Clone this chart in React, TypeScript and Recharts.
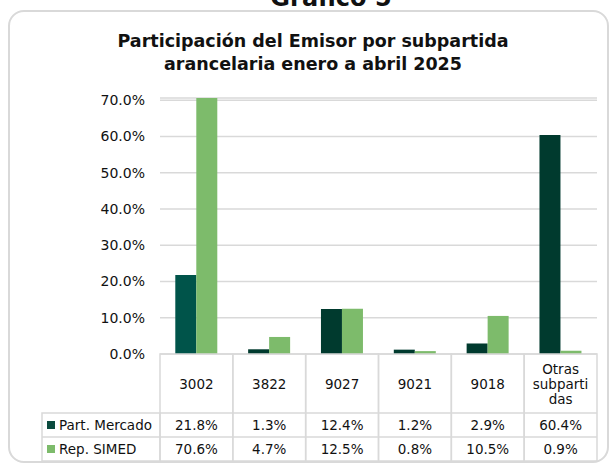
import { BarChart, Bar, XAxis, YAxis, CartesianGrid, Cell } from "recharts";

const categories = ["3002", "3822", "9027", "9021", "9018", "Otras\nsubparti\ndas"];
const partMercado = [21.8, 1.3, 12.4, 1.2, 2.9, 60.4];
const repSimed = [70.6, 4.7, 12.5, 0.8, 10.5, 0.9];
const yTicks = [0, 10, 20, 30, 40, 50, 60, 70];
const seriesNames = ["Part. Mercado", "Rep. SIMED"];

const data = categories.map((c, i) => ({ name: c, mercado: partMercado[i], simed: repSimed[i] }));

const FONT = "'DejaVu Sans', sans-serif";
const GRID = "#d9d9d9";
const DARK_FIRST = "#00544a";
const DARK = "#003a2e";
const GREEN = "#7dbb6b";
const LEGEND_DARK = "#0b4b3e";

const W = 611;
const H = 464;
const M = { top: 98, right: 14, left: 100, bottom: 2 };
const Y_W = 60;
const X_H = 108;
const COL_W = (W - M.left - Y_W - M.right) / categories.length;
const CAT_H = 59;
const ROW_H = 24;
const HEAD_W = 118;

const fmt = (v: number) => v.toFixed(1) + "%";

const TableTick = (props: any) => {
  const { x, y, payload } = props;
  const i = payload.index;
  const left = x - COL_W / 2;
  const lines = String(payload.value).split("\n");
  const r1 = y + CAT_H;
  const r2 = r1 + ROW_H;
  const lineH = 15;
  const catMid = y + CAT_H / 2;
  return (
    <g fontFamily={FONT} fontSize={13.5} fill="#111">
      <rect x={left} y={y} width={COL_W} height={CAT_H + ROW_H * 2} fill="none" stroke={GRID} strokeWidth={1.5} />
      <line x1={left} x2={left + COL_W} y1={r1} y2={r1} stroke={GRID} strokeWidth={1.5} />
      <line x1={left} x2={left + COL_W} y1={r2} y2={r2} stroke={GRID} strokeWidth={1.5} />
      {lines.map((l, k) => (
        <text key={k} x={x} y={catMid + (k - (lines.length - 1) / 2) * lineH} textAnchor="middle" dominantBaseline="central">
          {l}
        </text>
      ))}
      <text x={x} y={r1 + ROW_H / 2} textAnchor="middle" dominantBaseline="central">{fmt(partMercado[i])}</text>
      <text x={x} y={r2 + ROW_H / 2} textAnchor="middle" dominantBaseline="central">{fmt(repSimed[i])}</text>
      {i === 0 && (
        <g>
          <rect x={left - HEAD_W} y={r1} width={HEAD_W} height={ROW_H * 2} fill="none" stroke={GRID} strokeWidth={1.5} />
          <line x1={left - HEAD_W} x2={left} y1={r2} y2={r2} stroke={GRID} strokeWidth={1.5} />
          <rect x={left - HEAD_W + 5} y={r1 + ROW_H / 2 - 4} width={8} height={8} fill={LEGEND_DARK} />
          <text x={left - HEAD_W + 17} y={r1 + ROW_H / 2} dominantBaseline="central">{seriesNames[0]}</text>
          <rect x={left - HEAD_W + 5} y={r2 + ROW_H / 2 - 4} width={8} height={8} fill={GREEN} />
          <text x={left - HEAD_W + 17} y={r2 + ROW_H / 2} dominantBaseline="central">{seriesNames[1]}</text>
        </g>
      )}
    </g>
  );
};

export default function App() {
  return (
    <div style={{ position: "absolute", left: 0, top: 0, width: W, height: H, background: "#fff", overflow: "hidden" }}>
      <svg width={W} height={H} style={{ position: "absolute", left: 0, top: 0 }}>
        <text x={331} y={6} textAnchor="middle" fontFamily={FONT} fontWeight="bold" fontSize={24} fill="#111">
          Gráfico 5
        </text>
        <rect x={9} y={11} width={599} height={451} rx={15} fill="none" stroke={GRID} strokeWidth={2} />
        <text x={313} y={47} textAnchor="middle" fontFamily={FONT} fontWeight="bold" fontSize={17.5} fill="#111">
          Participación del Emisor por subpartida
        </text>
        <text x={313} y={70} textAnchor="middle" fontFamily={FONT} fontWeight="bold" fontSize={17.5} fill="#111">
          arancelaria enero a abril 2025
        </text>
      </svg>
      <div style={{ position: "absolute", left: 0, top: 0 }}>
        <BarChart width={W} height={H} data={data} margin={M} barCategoryGap="21%" barGap={0}>
          <CartesianGrid vertical={false} stroke={GRID} strokeWidth={1.5} />
          <YAxis
            width={Y_W}
            domain={[0, 70]}
            ticks={yTicks}
            tickFormatter={fmt}
            axisLine={false}
            tickLine={false}
            tickSize={0}
            tickMargin={15}
            tick={{ fill: "#111", fontSize: 14, fontFamily: FONT }}
          />
          <XAxis
            dataKey="name"
            height={X_H}
            interval={0}
            axisLine={false}
            tickLine={false}
            tickSize={0}
            tickMargin={0}
            tick={<TableTick />}
          />
          <Bar dataKey="mercado" name={seriesNames[0]} fill={DARK} isAnimationActive={false}>
            {data.map((_, i) => (
              <Cell key={i} fill={i === 0 ? DARK_FIRST : DARK} />
            ))}
          </Bar>
          <Bar dataKey="simed" name={seriesNames[1]} fill={GREEN} isAnimationActive={false} />
        </BarChart>
      </div>
    </div>
  );
}
